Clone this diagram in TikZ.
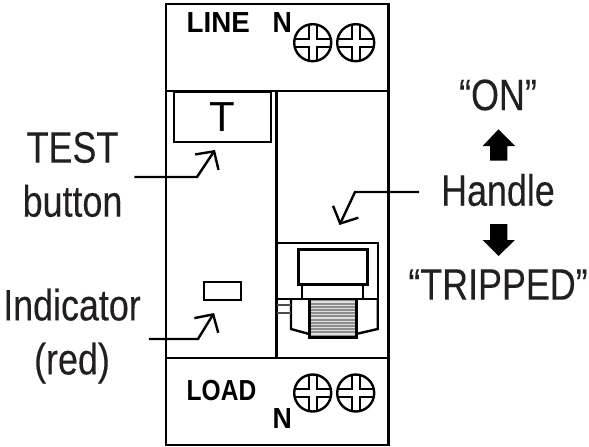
\documentclass[tikz,border=0pt]{standalone}
\usepackage{fontspec}
\setmainfont{Liberation Sans}
\newfontfamily\narrowfont[FakeStretch=0.815,FakeBold=0.15]{Liberation Sans}
\newfontfamily\termfont[FakeStretch=0.92]{Liberation Sans Bold}
\usetikzlibrary{arrows.meta}
\definecolor{ink}{HTML}{231F20}
\tikzset{
  body/.style={draw=black,line width=2.4pt},
  thick line/.style={draw=black,line width=3pt},
  thin line/.style={draw=black,line width=1.8pt},
  label text/.style={font=\narrowfont\fontsize{44}{54}\selectfont,text=ink,align=center,inner sep=0pt,outer sep=0pt},
  terminal/.style={font=\termfont\fontsize{29}{29}\selectfont,text=black,inner sep=0pt,anchor=base west},
  leader/.style={draw=black,line width=2.4pt,line join=miter,-{Straight Barb[length=13pt,width=28pt,line width=2.4pt]}},
  block arrow/.style={fill=black,draw=none},
  pics/screw/.style={code={
    \draw[line width=2.4pt] (0,0) circle (18.5);
    \draw[line width=2pt]
      (-4,-18) -- (-4,-4) -- (-18,-4)
      (4,-18) -- (4,-4) -- (18,-4)
      (-4,18) -- (-4,4) -- (-18,4)
      (4,18) -- (4,4) -- (18,4);
  }}
}
\begin{document}
\begin{tikzpicture}[x=1pt,y=-1pt]
\useasboundingbox (0,0) rectangle (589,447);
% housing
\draw[body] (166,4) rectangle (388.5,445);
\draw[body] (166,91) -- (388.5,91);
\draw[body] (166,358) -- (388.5,358);
\draw[body] (276.5,91) -- (276.5,358);
% test button
\node[body,minimum width=97pt,minimum height=50pt,inner sep=0pt,anchor=north west] (tbtn) at (173,91) {};
\node[font=\fontsize{42}{42}\selectfont,inner sep=0pt,text=black] (tlet) at (222,117) {T};
% terminals
\node[terminal,xscale=1.04,transform shape] (line) at (186.5,32.5) {LINE};
\node[terminal] (nt) at (272.5,32.5) {N};
\node[terminal,xscale=.92,transform shape] (load) at (186.5,400) {LOAD};
\node[terminal] (nb) at (272.5,428) {N};
\pic at (312.7,42.7) {screw};
\pic at (355.7,42.7) {screw};
\pic at (312.7,393) {screw};
\pic at (355.7,393) {screw};
% indicator
\node[body,minimum width=37pt,minimum height=18pt,inner sep=0pt,anchor=north west] (ind) at (203,281) {};
% handle mechanism
\fill[gray!90] (309,299) rectangle (356,337);
\foreach \y in {302,305.2,...,335}{
  \draw[white!75!gray,line width=1.1pt] (310,\y) -- (355,\y);
}
\draw[thick line] (309,299) -- (309,337) -- (356,337) -- (356,299);
\draw[body] (276.5,242.7) rectangle (377.7,298.7);
\draw[thick line] (298,249) rectangle (367,284);
\draw[thin line] (302,284) -- (302,298) (363,284) -- (363,298);
\draw[body] (291,299) -- (291,329) -- (309,334);
\draw[body] (377.7,299) -- (377.7,329) -- (356,334);
\draw[thin line,draw=black!70] (276.5,305) -- (291,305) (276.5,313) -- (291,313);
% labels
\node[label text,inner xsep=12pt] (test) at (72.5,174.5) {TEST\\button};
\node[label text,inner xsep=8pt] (indic) at (72,336) {Indicator\\(red)};
\node[label text,inner xsep=22pt] (handle) at (498,190) {Handle};
\node[label text] (on) at (498,95) {“ON”};
\node[label text] (tripped) at (498,284.5) {“TRIPPED”};
% leaders
\coordinate (tb) at (197,177);
\coordinate (ta) at (215,150);
\coordinate (ib) at (198,339);
\coordinate (ia) at (214,313);
\coordinate (hb) at (355,192);
\coordinate (ha) at (339.5,225);
\draw[leader] (test.east |- tb) -- (tb) -- (ta);
\draw[leader] (indic.east |- ib) -- (ib) -- (ia);
\draw[leader] (handle.west |- hb) -- (hb) -- (ha);
% block arrows
\fill[block arrow] (498.5,129.3) -- (515,146) -- (507.3,146) -- (507.3,160.7) -- (490,160.7) -- (490,146) -- (482.7,146) -- cycle;
\fill[block arrow] (498.5,256) -- (515,240) -- (507.3,240) -- (507.3,224) -- (490,224) -- (490,240) -- (482.7,240) -- cycle;
\end{tikzpicture}
\end{document}
